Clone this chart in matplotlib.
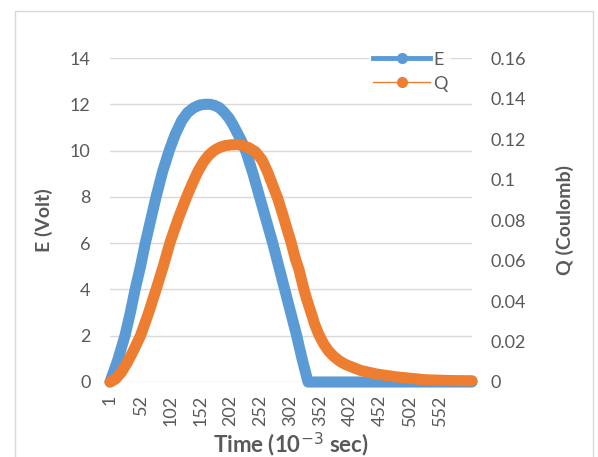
import matplotlib
matplotlib.use("Agg")
import matplotlib.pyplot as plt
from matplotlib.lines import Line2D
from matplotlib.patches import Rectangle

plt.rcParams['font.family'] = ['Lato', 'DejaVu Sans']

# E (Volt), x = time in 10^-3 sec
t_e = [1, 14, 26, 35, 43, 52, 60, 69, 78, 89, 100, 110, 121, 131, 141, 151, 160, 168, 176, 184,
       192, 200, 207, 213, 221, 229, 240, 251, 262, 273, 283, 293, 303, 313, 322, 332, 400, 500, 606]
e_volt = [0, 0.95, 2.0, 3.0, 4.0, 5.0, 6.0, 7.0, 8.0, 9.1, 10.0, 10.7, 11.3, 11.65, 11.85, 11.97, 12.0, 12.0, 11.95, 11.85,
          11.65, 11.4, 11.1, 10.8, 10.4, 9.9, 9.0, 8.0, 7.0, 6.0, 5.0, 4.0, 3.0, 2.0, 1.0, 0, 0, 0, 0]

# Q (Coulomb)
t_q = [1, 10, 20, 30, 40, 52, 65, 78, 90, 101, 115, 129, 139, 148, 157, 166, 175, 184, 193, 203,
       213, 223, 233, 244, 255, 264, 273, 281, 289, 297, 304, 311, 317, 324, 330, 337, 343, 350, 358,
       366, 375, 385, 395, 420, 445, 480, 528, 570, 606]
q_coul = [0, 0.0014, 0.0048, 0.0097, 0.0154, 0.0229, 0.0337, 0.0457, 0.0571, 0.0686, 0.0806, 0.0914,
          0.0983, 0.104, 0.1086, 0.112, 0.1143, 0.1158, 0.1167, 0.1171, 0.1173, 0.1168, 0.1157, 0.1137,
          0.1097, 0.104, 0.0971, 0.0909, 0.0834, 0.0754, 0.0686, 0.0606, 0.0554, 0.0469, 0.0406, 0.0343,
          0.0286, 0.0234, 0.0189, 0.0154, 0.0126, 0.0103, 0.0086, 0.0057, 0.004, 0.0025, 0.0011, 0.0007,
          0.0006]

x_ticks = [1, 52, 102, 152, 202, 252, 302, 352, 402, 452, 502, 552]
e_ticks = [0, 2, 4, 6, 8, 10, 12, 14]
q_ticks = [0, 0.02, 0.04, 0.06, 0.08, 0.1, 0.12, 0.14, 0.16]
q_labels = ['0', '0.02', '0.04', '0.06', '0.08', '0.1', '0.12', '0.14', '0.16']

blue = '#5B9BD5'
orange = '#ED7D31'
gray = '#595959'

fig = plt.figure(figsize=(5.98, 4.57), dpi=100)
fig.patches.append(Rectangle((15 / 598, -0.05), 578 / 598, 1 - 11 / 457 + 0.05,
                             transform=fig.transFigure, fill=False, edgecolor='#d9d9d9', lw=1))
ax = fig.add_axes([110 / 598, 75 / 457, 362 / 598, 324 / 457])
ax2 = ax.twinx()

ax.plot(t_e, e_volt, color=blue, lw=8, solid_capstyle='round', solid_joinstyle='round', clip_on=False)
ax2.plot(t_q, q_coul, color=orange, lw=8, solid_capstyle='round', solid_joinstyle='round', clip_on=False)

ax.set_xlim(1, 606)
ax.set_ylim(0, 14)
ax2.set_ylim(0, 0.16)
ax.set_yticks(e_ticks)
ax2.set_yticks(q_ticks)
ax2.set_yticklabels(q_labels)
ax.set_xticks(x_ticks)
ax.set_xticklabels([str(v) for v in x_ticks], rotation=90)

ax.grid(axis='y', color='#d9d9d9', lw=1)
ax.set_axisbelow(True)
for a in (ax, ax2):
    for s in a.spines.values():
        s.set_visible(False)
    a.tick_params(length=0, colors=gray, labelsize=13)
ax.tick_params(axis='y', pad=14)
ax2.tick_params(axis='y', pad=13)
ax.tick_params(axis='x', pad=9)

ax.set_ylabel('E (Volt)', fontsize=14, fontweight='bold', color=gray, labelpad=12)
ax2.set_ylabel('Q (Coulomb)', fontsize=14, fontweight='bold', color=gray, rotation=90, labelpad=22)
ax.set_xlabel('Time (10$^{-3}$ sec)', fontsize=16, fontweight='bold', color=gray, labelpad=3)

handles = [Line2D([], [], color=blue, lw=3.5, marker='o', ms=7),
           Line2D([], [], color=orange, lw=1, marker='o', ms=7)]
leg = ax2.legend(handles, ['E', 'Q'], loc='upper left', bbox_to_anchor=(369 / 598, 1 - 48 / 457),
                 bbox_transform=fig.transFigure, frameon=True, fontsize=13, handlelength=3.2,
                 handletextpad=0.15, labelspacing=0.45, borderpad=0.2, borderaxespad=0)
leg.get_frame().set_facecolor('white')
leg.get_frame().set_edgecolor('none')
for txt in leg.get_texts():
    txt.set_color(gray)

fig.savefig('out.png', dpi=100)
